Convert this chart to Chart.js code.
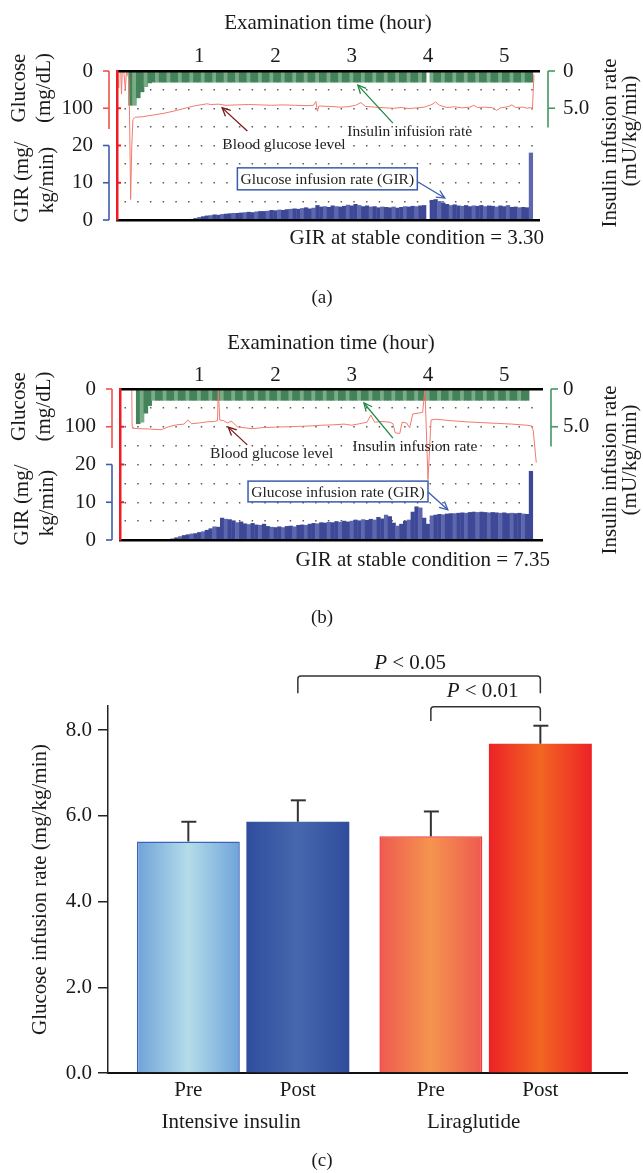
<!DOCTYPE html>
<html>
<head>
<meta charset="utf-8">
<script src="https://cdn.jsdelivr.net/npm/chart.js@4.4.1/dist/chart.umd.min.js"></script>
<style>
  html, body { margin: 0; padding: 0; background: #fff; }
  #wrap { position: relative; width: 643px; height: 1173px; }
  canvas { position: absolute; left: 0; }
</style>
</head>
<body>
<div id="wrap">
  <canvas id="chartA" width="643" height="320" style="top:0"></canvas>
  <canvas id="chartB" width="643" height="320" style="top:320px"></canvas>
  <canvas id="chartC" width="643" height="533" style="top:640px"></canvas>
</div>
<script>
const FAMILY = "'Liberation Serif', 'Times New Roman', serif";

// ---------- panels (a) and (b): clamp traces, time in hours ----------
const hourTicks = [1, 2, 3, 4, 5];
const leftTickLabels = { 0: '0', 100: '100', 200: '20', 300: '10', 400: '0' }; // glucose 0/100, GIR 20/10/0
const gluGridValues = [0, 50, 100, 150, 200, 250, 300, 350, 400];
const SAMPLE_H = 0.05; // pump log: one bar every 3 min

// GIR (mg/kg/min), (a) first sample at 0.90 h
const girStartA = 0.90;
const girA = [
  0.2, 0.4, 0.7, 0.9, 1.1, 1.2, 1.4, 1.3, 1.5, 1.6,
  1.7, 1.8, 1.8, 1.9, 2.0, 2.1, 2.0, 2.2, 2.3, 2.3,
  2.4, 2.6, 2.5, 2.7, 2.6, 2.8, 2.9, 3.0, 2.9, 3.1,
  3.3, 3.0, 3.2, 3.9, 3.5, 3.6, 3.4, 3.8, 3.6, 3.5,
  3.7, 4.0, 3.8, 4.2, 3.9, 3.6, 3.8, 3.5, 3.6, 3.3,
  3.5, 3.4, 3.3, 3.5, 3.2, 3.4, 3.6, 3.5, 3.7, 3.6,
  3.8, 3.9, 0, 5.3, 5.5, 5.0, 4.6, 4.2, 3.9, 4.1,
  3.8, 3.7, 3.9, 3.6, 3.8, 3.7, 3.9, 3.6, 3.8, 3.7,
  3.5, 3.8, 3.6, 3.9, 3.4, 3.5, 3.3, 3.4, 3.3, 18.0
];
// insulin infusion rate (mU/kg/min), (a) first sample at 0.10 h
const insStartA = 0.10;
const insulinA = [
  4.6, 4.6, 3.6, 2.8, 2.1, 1.6,
  1.5, 1.5, 1.5, 1.5, 1.5, 1.5, 1.5, 1.5, 1.5, 1.5, 1.5, 1.5,
  1.5, 1.5, 1.5, 1.5, 1.5, 1.5, 1.5, 1.5, 1.5, 1.5, 1.5, 1.5,
  1.5, 1.5, 1.5, 1.5, 1.5, 1.5, 1.5, 1.5, 1.5, 1.5, 1.5, 1.5,
  1.5, 1.5, 1.5, 1.5, 1.5, 1.5, 1.5, 1.5, 1.5, 1.5, 1.5, 1.5,
  1.5, 1.5, 1.5, 1.5, 1.5, 1.5, 1.5, 1.5, 1.5, 1.5, 1.5, 1.5,
  1.5, 1.5, 1.5, 1.5, 1.5, 1.5, 1.5, 1.5, 1.5, 1.5, 1.5, 1.5,
  0,
  1.5, 1.5, 1.5, 1.5, 1.5, 1.5, 1.5, 1.5, 1.5, 1.5, 1.5, 1.5,
  1.5, 1.5, 1.5, 1.5, 1.5, 1.5, 1.5, 1.5, 1.5, 1.5, 1.5, 1.5,
  1.5, 1.5, 1.5
];
// blood glucose (mg/dL), (a)
const glucoseTimeA = [
  -0.075, -0.065, -0.055, -0.045, -0.03, -0.02, -0.01, 0.01, 0.03, 0.045,
  0.06, 0.075, 0.085, 0.10, 0.115, 0.13, 0.16, 0.25, 0.40, 0.55,
  0.70, 0.85, 0.95, 1.05, 1.10, 1.15, 1.25, 1.35, 1.50, 1.65,
  1.80, 1.95, 2.10, 2.25, 2.40, 2.50, 2.53, 2.55, 2.57, 2.70,
  2.85, 2.95, 3.05, 3.12, 3.18, 3.30, 3.45, 3.55, 3.65, 3.75,
  3.85, 3.95, 4.05, 4.10, 4.15, 4.25, 4.35, 4.45, 4.55, 4.60,
  4.65, 4.75, 4.85, 4.90, 4.95, 5.05, 5.10, 5.15, 5.25, 5.30,
  5.35, 5.37, 5.39
];
const glucoseA = [
  0, 45, 5, 0, 0, 62, 0, 0, 50, 0,
  8, 20, 110, 345, 200, 130, 124, 123, 118, 113,
  106, 98, 93, 90, 88, 90, 89, 92, 91, 90,
  91, 92, 91, 92, 93, 92, 82, 108, 94, 95,
  97, 96, 92, 85, 95, 97, 99, 100, 98, 101,
  99, 97, 90, 83, 92, 98, 96, 99, 97, 92,
  98, 97, 99, 106, 99, 96, 91, 98, 97, 100,
  98, 101, 10
];

// (b)
const girStartB = 0.65;
const girB = [
  0.3, 0.6, 0.9, 1.2, 1.4, 1.6, 1.7, 2.0, 2.2, 2.6,
  3.0, 3.5, 3.4, 5.8, 5.5, 5.4, 5.1, 4.6, 4.8, 4.3,
  4.1, 4.4, 4.0, 3.9, 4.2, 3.6, 3.4, 3.3, 3.5, 3.3,
  3.6, 3.7, 3.5, 3.9, 4.0, 3.9, 4.2, 4.4, 4.3, 4.6,
  4.5, 4.7, 4.6, 4.9, 4.7, 5.0, 4.8, 5.0, 5.3, 5.1,
  5.4, 5.2, 5.5, 5.3, 6.0, 5.6, 6.6, 6.2, 4.5, 3.7,
  4.2, 5.0, 5.3, 7.4, 8.8, 8.5, 5.8, 4.2, 6.4, 6.6,
  6.8, 6.7, 6.9, 7.0, 7.0, 7.1, 7.2, 7.1, 7.3, 7.4,
  7.3, 7.4, 7.3, 7.2, 7.3, 7.2, 7.1, 7.2, 7.0, 7.1,
  7.0, 7.1, 6.9, 6.8, 18.2
];
const insStartB = 0.20;
const insulinB = [
  4.6, 4.4, 3.2, 2.2,
  1.5, 1.5, 1.5, 1.5, 1.5, 1.5, 1.5, 1.5, 1.5, 1.5, 1.5, 1.5,
  1.5, 1.5, 1.5, 1.5, 1.5, 1.5, 1.5, 1.5, 1.5, 1.5, 1.5, 1.5,
  1.5, 1.5, 1.5, 1.5, 1.5, 1.5, 1.5, 1.5, 1.5, 1.5, 1.5, 1.5,
  1.5, 1.5, 1.5, 1.5, 1.5, 1.5, 1.5, 1.5, 1.5, 1.5, 1.5, 1.5,
  1.5, 1.5, 1.5, 1.5, 1.5, 1.5, 1.5, 1.5, 1.5, 1.5, 1.5, 1.5,
  1.5, 1.5, 1.5, 1.5, 1.5, 1.5, 1.5, 1.5, 1.5, 1.5, 1.5, 1.5,
  1.5, 1.5, 1.5, 1.5, 1.5, 1.5, 1.5, 1.5, 1.5, 1.5, 1.5, 1.5,
  1.5, 1.5, 1.5, 1.5, 1.5, 1.5, 1.5, 1.5, 1.5, 1.5, 1.5, 1.5,
  1.5, 1.5, 1.5
];
const glucoseTimeB = [
  0.115, 0.12, 0.13, 0.20, 0.35, 0.50, 0.60, 0.70, 0.80, 0.85,
  0.90, 1.00, 1.10, 1.20, 1.24, 1.25, 1.27, 1.32, 1.37, 1.42,
  1.50, 1.60, 1.70, 1.85, 2.00, 2.15, 2.30, 2.45, 2.60, 2.75,
  2.90, 3.00, 3.10, 3.20, 3.25, 3.30, 3.40, 3.50, 3.54, 3.57,
  3.63, 3.66, 3.72, 3.76, 3.80, 3.87, 3.93, 3.96, 4.00, 4.04,
  4.10, 4.30, 4.50, 4.70, 4.90, 5.10, 5.30, 5.36, 5.38, 5.42
];
const glucoseB = [
  0, 100, 104, 105, 106, 108, 100, 95, 93, 82,
  92, 90, 87, 86, 84, 0, 82, 84, 90, 85,
  100, 103, 105, 102, 101, 100, 99, 98, 96, 95,
  93, 96, 92, 88, 69, 88, 86, 88, 92, 116,
  118, 88, 90, 103, 66, 64, 62, 0, 240, 82,
  80, 84, 87, 89, 91, 93, 96, 98, 110, 195
];

// ---------- panel (c): GIR at stable condition ----------
const groups = ['Intensive insulin', 'Liraglutide'];
const phases = ['Pre', 'Post'];
const girPre = [5.40, 5.52];
const girPost = [5.86, 7.68];
const sdPre = [0.46, 0.58];
const sdPost = [0.50, 0.42];
const yTicksC = [0, 2, 4, 6, 8];

Chart.defaults.font.family = FAMILY;
Chart.defaults.color = '#1a1a1a';

const fnt = (size, style) => ({ family: FAMILY, size: size, style: style || 'normal', lineHeight: 1.2 });

function sampled(start, values) {
  return values.map((v, i) => ({ x: +(start + i * SAMPLE_H).toFixed(3), y: v }));
}
function paired(times, values) {
  return times.map((t, i) => ({ x: t, y: values[i] }));
}

function seg(ctx, x1, y1, x2, y2) {
  ctx.beginPath(); ctx.moveTo(x1, y1); ctx.lineTo(x2, y2); ctx.stroke();
}
function bracket(ctx, x, y1, y2, ticks, dir, color) {
  ctx.strokeStyle = color; ctx.lineWidth = 1.6;
  seg(ctx, x, y1, x, y2);
  ticks.forEach(t => seg(ctx, x, t, x + dir, t));
}
function arrow(ctx, x1, y1, x2, y2, color) {
  const ang = Math.atan2(y2 - y1, x2 - x1), len = 9, spread = 0.45;
  ctx.strokeStyle = color; ctx.lineWidth = 1.3;
  seg(ctx, x1, y1, x2, y2);
  ctx.beginPath();
  ctx.moveTo(x2 - len * Math.cos(ang - spread), y2 - len * Math.sin(ang - spread));
  ctx.lineTo(x2, y2);
  ctx.lineTo(x2 - len * Math.cos(ang + spread), y2 - len * Math.sin(ang + spread));
  ctx.stroke();
}
function rotText(ctx, text, x, y) {
  ctx.save();
  ctx.translate(x, y);
  ctx.rotate(-Math.PI / 2);
  ctx.fillText(text, 0, 0);
  ctx.restore();
}

// brackets, side labels and call-outs of the clamp panels
const traceDecor = {
  id: 'traceDecor',
  afterDraw(chart, args, o) {
    const { ctx, chartArea: a, scales } = chart;
    const X = v => scales.x.getPixelForValue(v);
    const G = v => scales.yGlu.getPixelForValue(v);
    const R = v => scales.yGir.getPixelForValue(v);
    const I = v => scales.yIns.getPixelForValue(v);
    ctx.save();

    ctx.strokeStyle = '#ee1d23'; ctx.lineWidth = 2;
    [100, 200, 300].forEach(v => seg(ctx, a.left, G(v), a.left + 4, G(v)));

    bracket(ctx, a.left - 8, G(0), G(156), [0, 100].map(G), -6, '#f0504b');
    bracket(ctx, a.left - 8, R(20), R(0), [20, 10, 0].map(R), -6, '#3d5daa');
    bracket(ctx, a.right + 9, I(0), I(7.6), [0, 5].map(I), 7, '#3f9a60');

    ctx.fillStyle = '#1a1a1a';
    ctx.textAlign = 'center';
    ctx.textBaseline = 'middle';
    ctx.font = '21px ' + FAMILY;
    o.side.forEach(s => rotText(ctx, s[0], s[1], s[2]));

    ctx.textAlign = 'right';
    ctx.fillText(o.stable, o.stableX, o.stableY);
    ctx.textAlign = 'center';
    ctx.font = '19px ' + FAMILY;
    ctx.fillText(o.tag, 322, o.tagY);

    const n = o.notes;
    ctx.font = '15.5px ' + FAMILY;
    ctx.fillStyle = '#222';
    ctx.fillText('Blood glucose level', X(n.bgl.at[0]), G(n.bgl.at[1]));
    arrow(ctx, X(n.bgl.from[0]), G(n.bgl.from[1]), X(n.bgl.to[0]), G(n.bgl.to[1]), '#7b1518');
    ctx.fillText('Insulin infusion rate', X(n.ins.at[0]), G(n.ins.at[1]));
    arrow(ctx, X(n.ins.from[0]), G(n.ins.from[1]), X(n.ins.to[0]), G(n.ins.to[1]), '#1f8a45');

    const b = n.gir.box;
    const bx1 = X(b[0]), by1 = G(b[1]), bx2 = X(b[2]), by2 = G(b[3]);
    ctx.fillStyle = '#fff';
    ctx.fillRect(bx1, by1, bx2 - bx1, by2 - by1);
    ctx.strokeStyle = '#3a5bb0'; ctx.lineWidth = 1.5;
    ctx.strokeRect(bx1, by1, bx2 - bx1, by2 - by1);
    ctx.fillStyle = '#222';
    ctx.fillText('Glucose infusion rate (GIR)', (bx1 + bx2) / 2, (by1 + by2) / 2 + 1);
    arrow(ctx, X(n.gir.from[0]), G(n.gir.from[1]), X(n.gir.to[0]), G(n.gir.to[1]), '#3a5bb0');
    ctx.restore();
  }
};

function traceChart(p) {
  return new Chart(document.getElementById(p.canvas), {
    type: 'bar',
    data: {
      datasets: [
        {
          type: 'line', label: 'Blood glucose level', data: p.glucose,
          xAxisID: 'x', yAxisID: 'yGlu', borderColor: '#f27a6e', borderWidth: 1,
          pointRadius: 0, tension: 0, order: 0
        },
        {
          type: 'bar', label: 'Insulin infusion rate', data: p.insulin,
          xAxisID: 'x', yAxisID: 'yIns', grouped: false, barThickness: 3.9,
          backgroundColor: c => (c.dataIndex % 3 === 1 ? '#78ad85' : '#43825a'), order: 2
        },
        {
          type: 'bar', label: 'Glucose infusion rate (GIR)', data: p.gir,
          xAxisID: 'x', yAxisID: 'yGir', grouped: false, barThickness: 3.6,
          backgroundColor: c => (c.dataIndex % 3 === 2 ? '#5d67ad' : '#3d4896'), order: 1
        }
      ]
    },
    options: {
      responsive: false,
      animation: false,
      events: [],
      layout: { padding: 0 },
      plugins: { legend: { display: false }, tooltip: { enabled: false }, traceDecor: p.decor },
      scales: {
        x: {
          type: 'linear', position: 'top', min: p.xMin, max: p.xMax, offset: false,
          afterBuildTicks: s => { s.ticks = hourTicks.map(v => ({ value: v })); },
          afterFit: s => { s.height = p.top; },
          ticks: { font: fnt(21), color: '#1a1a1a', padding: p.hourPad, autoSkip: false, maxRotation: 0 },
          grid: { display: false, drawTicks: false, offset: false },
          border: { color: '#000', width: 2.5, z: 1 },
          title: { display: true, text: 'Examination time (hour)', font: fnt(21), color: '#1a1a1a', padding: { top: p.titlePad, bottom: 0 } }
        },
        xBottom: {
          type: 'linear', position: 'bottom', min: p.xMin, max: p.xMax, offset: false,
          afterFit: s => { s.height = p.height - p.bottom; },
          ticks: { display: false },
          grid: { display: false, drawTicks: false, offset: false },
          border: { color: '#000', width: 2.5, z: 1 }
        },
        yGlu: {
          type: 'linear', position: 'left', reverse: true, min: 0, max: 400,
          afterBuildTicks: s => { s.ticks = gluGridValues.map(v => ({ value: v })); },
          afterFit: s => { s.width = p.left; },
          ticks: { font: fnt(21), color: '#1a1a1a', padding: p.leftPad, autoSkip: false, callback: v => leftTickLabels[v] || '' },
          grid: {
            drawTicks: false, lineWidth: 1.5,
            color: c => (c.tick && (c.tick.value === 0 || c.tick.value === 400) ? 'rgba(0,0,0,0)' : '#5a5a5a')
          },
          border: { color: '#ee1d23', width: 2.5, z: 1, dash: [1.5, 11.21], dashOffset: p.dotOffset }
        },
        yGir: { type: 'linear', display: false, min: 0, max: 40 },
        yIns: {
          type: 'linear', position: 'right', reverse: true, min: 0, max: 20,
          afterBuildTicks: s => { s.ticks = [{ value: 0 }, { value: 5 }]; },
          afterFit: s => { s.width = 643 - p.right; },
          ticks: { font: fnt(21), color: '#1a1a1a', padding: p.rightPad, callback: v => (v === 0 ? '0' : '5.0') },
          grid: { display: false, drawTicks: false },
          border: { display: false }
        }
      }
    },
    plugins: [traceDecor]
  });
}

traceChart({
  canvas: 'chartA', height: 320, left: 117, right: 539, top: 71, bottom: 220,
  xMin: -0.079, xMax: 5.456, hourPad: 2.4, titlePad: 10.4, leftPad: 24, rightPad: 24, dotOffset: 6.71,
  glucose: paired(glucoseTimeA, glucoseA),
  insulin: sampled(insStartA, insulinA),
  gir: sampled(girStartA, girA),
  decor: {
    side: [['Glucose', 19, 88], ['(mg/dL)', 44, 88], ['GIR (mg/', 22.5, 182], ['kg/min)', 47.5, 180],
           ['Insulin infusion rate', 610, 143], ['(mU/kg/min)', 630, 131]],
    stable: 'GIR at stable condition = 3.30', stableX: 544, stableY: 238,
    tag: '(a)', tagY: 298,
    notes: {
      bgl: { at: [2.11, 199], from: [1.63, 161], to: [1.30, 99] },
      ins: { at: [3.76, 164], from: [3.54, 140], to: [3.08, 38] },
      gir: { box: [1.50, 260, 3.86, 319], from: [3.87, 298], to: [4.22, 341] }
    }
  }
});

traceChart({
  canvas: 'chartB', height: 320, left: 120, right: 542, top: 69, bottom: 220,
  xMin: -0.039, xMax: 5.495, hourPad: 1.4, titlePad: 10.9, leftPad: 24, rightPad: 21, dotOffset: 9.71,
  glucose: paired(glucoseTimeB, glucoseB),
  insulin: sampled(insStartB, insulinB),
  gir: sampled(girStartB, girB),
  decor: {
    side: [['Glucose', 19, 86.5], ['(mg/dL)', 44, 86.5], ['GIR (mg/', 22.5, 185], ['kg/min)', 47.5, 183],
           ['Insulin infusion rate', 610, 150], ['(mU/kg/min)', 630, 140]],
    stable: 'GIR at stable condition = 7.35', stableX: 550, stableY: 240,
    tag: '(b)', tagY: 298,
    notes: {
      bgl: { at: [1.95, 172], from: [1.63, 148], to: [1.38, 101] },
      ins: { at: [3.83, 154], from: [3.54, 130], to: [3.16, 37] },
      gir: { box: [1.64, 244, 4.0, 299], from: [4.0, 273], to: [4.26, 320] }
    }
  }
});

// ---------- panel (c) ----------
const barShades = [
  [['#6fa3d9', '#b4dcea'], ['#ee5a50', '#f5944f']],   // Pre
  [['#2f4d9d', '#4767ad'], ['#ed2226', '#f26622']]    // Post
];
const sigBrackets = [
  { from: [1, 0], to: [1, 1], top: 9.26, foot: 8.86, text: '< 0.05', textY: 9.56, dx: -9 },
  { from: [0, 1], to: [1, 1], top: 8.54, foot: 8.21, text: '< 0.01', textY: 8.89, dx: -3 }
];

const barDecor = {
  id: 'barDecor',
  beforeDatasetsDraw(chart) {
    const ctx = chart.ctx;
    chart.data.datasets.forEach((ds, di) => {
      chart.getDatasetMeta(di).data.forEach((bar, i) => {
        const shade = barShades[di][i];
        const half = bar.width / 2;
        const g = ctx.createLinearGradient(bar.x - half, 0, bar.x + half, 0);
        g.addColorStop(0, shade[0]);
        g.addColorStop(0.5, shade[1]);
        g.addColorStop(1, shade[0]);
        bar.options = Object.assign({}, bar.options, { backgroundColor: g });
      });
    });
  },
  afterDatasetsDraw(chart) {
    const { ctx, scales: { y }, chartArea: a } = chart;
    const metas = [chart.getDatasetMeta(0), chart.getDatasetMeta(1)];
    ctx.save();
    ctx.strokeStyle = '#333';
    ctx.lineWidth = 2;
    [sdPre, sdPost].forEach((sd, di) => {
      metas[di].data.forEach((bar, i) => {
        const v = chart.data.datasets[di].data[i].y;
        const yt = y.getPixelForValue(v + sd[i]);
        seg(ctx, bar.x, bar.y, bar.x, yt);
        seg(ctx, bar.x - 7, yt, bar.x + 8, yt);
      });
    });

    ctx.fillStyle = '#1a1a1a';
    ctx.textAlign = 'center';
    ctx.textBaseline = 'middle';
    ctx.font = '21px ' + FAMILY;
    metas.forEach((m, di) => m.data.forEach(bar => ctx.fillText(phases[di], bar.x, a.bottom + 17)));

    ctx.lineWidth = 1.5;
    ctx.strokeStyle = '#333';
    sigBrackets.forEach(s => {
      const x1 = metas[s.from[0]].data[s.from[1]].x;
      const x2 = metas[s.to[0]].data[s.to[1]].x;
      const top = y.getPixelForValue(s.top), foot = y.getPixelForValue(s.foot), r = 3;
      ctx.beginPath();
      ctx.moveTo(x1, foot);
      ctx.lineTo(x1, top + r);
      ctx.arcTo(x1, top, x1 + r, top, r);
      ctx.lineTo(x2 - r, top);
      ctx.arcTo(x2, top, x2, top + r, r);
      ctx.lineTo(x2, foot);
      ctx.stroke();

      const ty = y.getPixelForValue(s.textY);
      ctx.font = 'italic 21px ' + FAMILY;
      const wP = ctx.measureText('P').width;
      ctx.font = '21px ' + FAMILY;
      const wR = ctx.measureText(' ' + s.text).width;
      const tx = (x1 + x2) / 2 + s.dx - (wP + wR) / 2;
      ctx.textAlign = 'left';
      ctx.font = 'italic 21px ' + FAMILY;
      ctx.fillText('P', tx, ty);
      ctx.font = '21px ' + FAMILY;
      ctx.fillText(' ' + s.text, tx + wP, ty);
    });

    ctx.textAlign = 'center';
    ctx.font = '19px ' + FAMILY;
    ctx.fillText('(c)', 322, 521);
    ctx.restore();
  }
};

new Chart(document.getElementById('chartC'), {
  type: 'bar',
  data: {
    datasets: [
      {
        label: phases[0], data: girPre.map((v, i) => ({ x: i, y: v })),
        backgroundColor: ['#8fbde0', '#f27a50'], borderColor: ['#3d63b5', '#ef3e3a'], borderWidth: 1.5,
        categoryPercentage: 0.903, barPercentage: 0.94
      },
      {
        label: phases[1], data: girPost.map((v, i) => ({ x: i, y: v })),
        backgroundColor: ['#3a5aa5', '#f04a24'], borderColor: ['#2f4d9d', '#ed2226'], borderWidth: 0,
        categoryPercentage: 0.903, barPercentage: 0.94
      }
    ]
  },
  options: {
    responsive: false,
    animation: false,
    events: [],
    layout: { padding: { top: 66, right: 16 } },
    plugins: { legend: { display: false }, tooltip: { enabled: false } },
    scales: {
      x: {
        type: 'linear', min: -0.557, max: 1.583, offset: false,
        afterBuildTicks: s => { s.ticks = groups.map((g, i) => ({ value: i })); },
        afterFit: s => { s.height = 100; },
        ticks: { font: fnt(21), color: '#1a1a1a', padding: 36.9, labelOffset: -12, callback: v => groups[v] },
        grid: { display: false, drawTicks: false, offset: false },
        border: { color: '#111', width: 2 }
      },
      y: {
        min: 0, max: 8.56,
        afterBuildTicks: s => { s.ticks = yTicksC.map(v => ({ value: v })); },
        afterFit: s => { s.width = 108; },
        ticks: { font: fnt(21), color: '#1a1a1a', padding: 6, callback: v => v.toFixed(1) },
        grid: { drawOnChartArea: false, drawTicks: true, tickLength: 10, color: '#222', lineWidth: 1.5 },
        border: { color: '#222', width: 1.5 },
        title: { display: true, text: 'Glucose infusion rate (mg/kg/min)', font: fnt(21), color: '#1a1a1a', padding: { top: 27.4, bottom: 0 } }
      }
    }
  },
  plugins: [barDecor]
});
</script>
</body>
</html>
